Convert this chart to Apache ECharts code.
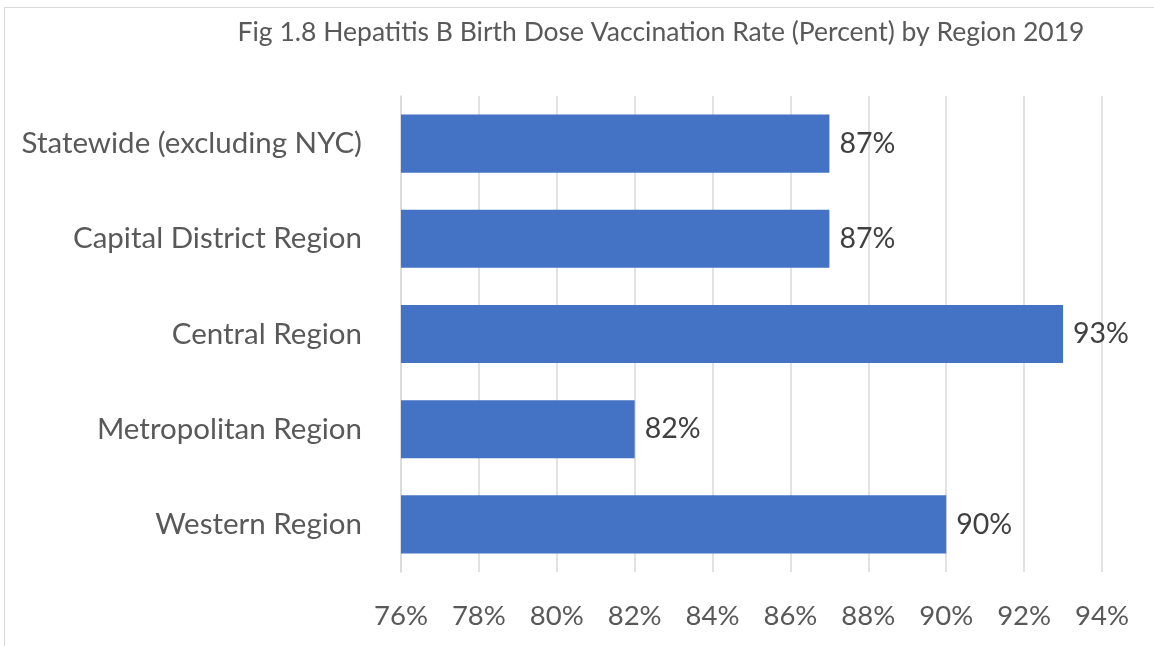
<!DOCTYPE html>
<html>
<head>
<meta charset="utf-8">
<script src="https://cdn.jsdelivr.net/npm/echarts@6/dist/echarts.min.js"></script>
<style>
  html, body { margin: 0; padding: 0; background: #fff; }
  #frame { position: absolute; left: 4px; top: 7px; width: 1200px; height: 700px; border: 1px solid #d9d9d9; }
  #chart { position: absolute; left: 0; top: 0; width: 1154px; height: 646px; }
</style>
</head>
<body>
<div id="frame"></div>
<div id="chart"></div>
<script>
// regions, top to bottom
var regions = ['Statewide (excluding NYC)', 'Capital District Region', 'Central Region', 'Metropolitan Region', 'Western Region'];
var rates = [87, 87, 93, 82, 90];
var ticks = [76, 78, 80, 82, 84, 86, 88, 90, 92, 94];

var font = 'Lato, "Open Sans", sans-serif';
var chart = echarts.init(document.getElementById('chart'));
chart.setOption({
    animation: false,
    title: {
        text: 'Fig 1.8 Hepatitis B Birth Dose Vaccination Rate (Percent) by Region 2019',
        left: 656, top: 14, textAlign: 'center',
        textStyle: { fontFamily: font, fontWeight: 'normal', fontSize: 26.5, color: '#595959' }
    },
    grid: { left: 401, right: 52, top: 96, bottom: 74, containLabel: false },
    xAxis: {
        type: 'value', min: ticks[0], max: ticks[ticks.length - 1], interval: 2,
        axisLine: { show: false }, axisTick: { show: false },
        splitLine: { lineStyle: { color: '#d9d9d9', width: 1.5 } },
        axisLabel: { formatter: '{value}%', margin: 30, fontFamily: font, fontSize: 27.5, color: '#595959' }
    },
    yAxis: {
        type: 'category', data: regions, inverse: true,
        axisLine: { lineStyle: { color: '#d9d9d9', width: 1.5 } }, axisTick: { show: false },
        axisLabel: { margin: 39, fontFamily: font, fontSize: 29.5, color: '#595959' }
    },
    series: [{
        type: 'bar', data: rates, barCategoryGap: '39%',
        itemStyle: { color: '#4472C4' },
        label: { show: true, position: 'right', distance: 10, formatter: '{c}%', fontFamily: font, fontSize: 28.5, color: '#404040' }
    }]
});
</script>
</body>
</html>
